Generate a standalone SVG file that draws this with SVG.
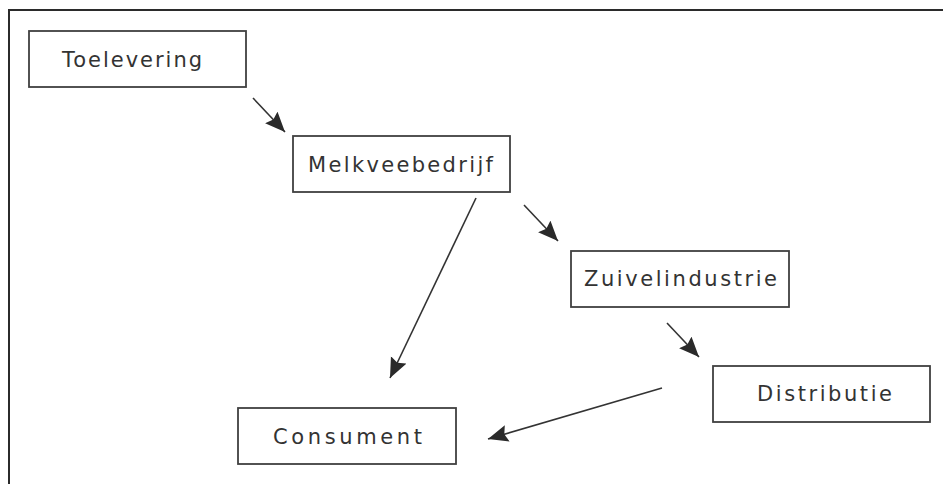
<svg xmlns="http://www.w3.org/2000/svg" width="943" height="484" viewBox="0 0 943 484">
  <style>
    .frame { fill: none; stroke: #2b2b2b; stroke-width: 2; }
    .box { fill: #ffffff; stroke: #404040; stroke-width: 1.8; }
    .label { font-family: "DejaVu Sans", Verdana, sans-serif; font-size: 21px; fill: #333333; }
    .link { stroke: #333333; stroke-width: 1.6; fill: none; marker-end: url(#head); }
  </style>
  <defs>
    <marker id="head" markerUnits="userSpaceOnUse" markerWidth="22" markerHeight="18" refX="20" refY="8.5" orient="auto">
      <path d="M0,0 L20,8.5 L0,17 L3,8.5 z" fill="#2a2a2a"/>
    </marker>
  </defs>

  <rect width="943" height="484" fill="#ffffff"/>
  <!-- outer frame, open to the right and bottom edges -->
  <rect class="frame" x="9" y="10" width="960" height="500"/>

  <g id="connectors">
    <line class="link" x1="253" y1="98" x2="285" y2="132"/>
    <line class="link" x1="524" y1="205" x2="558" y2="241"/>
    <line class="link" x1="667" y1="323" x2="699" y2="357"/>
    <line class="link" x1="476" y1="198" x2="390" y2="378"/>
    <line class="link" x1="662" y1="388" x2="488" y2="439"/>
  </g>

  <g id="toelevering">
    <rect class="box" x="29" y="31" width="217" height="56"/>
    <text class="label" x="62" y="67" textLength="140" lengthAdjust="spacing">Toelevering</text>
  </g>

  <g id="melkveebedrijf">
    <rect class="box" x="293" y="136" width="217" height="56"/>
    <text class="label" x="308" y="172" textLength="185" lengthAdjust="spacing">Melkveebedrijf</text>
  </g>

  <g id="zuivelindustrie">
    <rect class="box" x="571" y="251" width="218" height="56"/>
    <text class="label" x="584" y="286" textLength="193" lengthAdjust="spacing">Zuivelindustrie</text>
  </g>

  <g id="distributie">
    <rect class="box" x="713" y="366" width="217" height="56"/>
    <text class="label" x="757" y="401" textLength="135" lengthAdjust="spacing">Distributie</text>
  </g>

  <g id="consument">
    <rect class="box" x="238" y="408" width="218" height="56"/>
    <text class="label" x="273" y="444" textLength="149" lengthAdjust="spacing">Consument</text>
  </g>
</svg>
